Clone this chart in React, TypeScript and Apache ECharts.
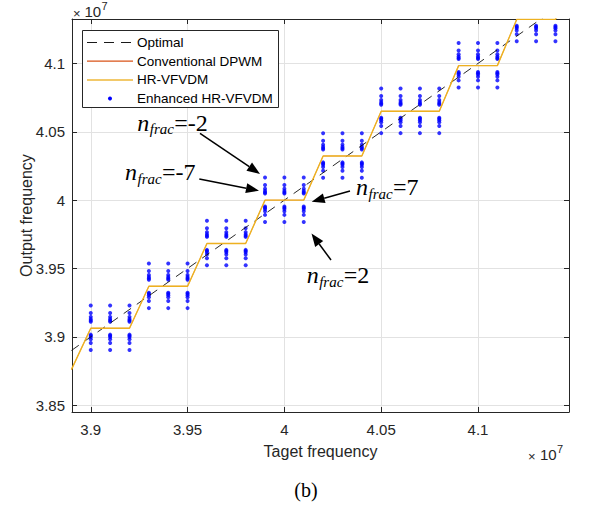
import React, { useEffect, useRef } from "react";
import * as echarts from "echarts";

// ---- data (units of 1e7 Hz) ----
const TARGET = [3.9, 3.91, 3.92, 3.93, 3.94, 3.95, 3.96, 3.97, 3.98, 3.99, 4.0, 4.01, 4.02, 4.03, 4.04, 4.05, 4.06, 4.07, 4.08, 4.09, 4.1, 4.11, 4.12, 4.13, 4.14];
const CLUSTER_LEVEL = [3.9063, 3.9063, 3.9063, 3.937, 3.937, 3.937, 3.9683, 3.9683, 3.9683, 4.0, 4.0, 4.0, 4.0323, 4.0323, 4.0323, 4.065, 4.065, 4.065, 4.065, 4.0984, 4.0984, 4.0984, 4.1322, 4.1322, 4.1322];
const ENH_OFFSETS = [0.0166, 0.0111, 0.0083, 0.0067, 0.0056, 0.0048, -0.0047, -0.0055, -0.0065, -0.0081, -0.0108, -0.016];
const STAIR_X = [3.89, 3.9, 3.92, 3.93, 3.95, 3.96, 3.98, 3.99, 4.01, 4.02, 4.04, 4.05, 4.08, 4.09, 4.11, 4.12, 4.14, 4.15];
const STAIR_Y = [3.876, 3.9063, 3.9063, 3.937, 3.937, 3.9683, 3.9683, 4.0, 4.0, 4.0323, 4.0323, 4.065, 4.065, 4.0984, 4.0984, 4.1322, 4.1322, 4.1667];
const OPT_X = [3.89, 4.15];
const OPT_Y = [3.89, 4.15];
const LEGEND_NAMES = ["Optimal", "Conventional DPWM", "HR-VFVDM", "Enhanced HR-VFVDM"];
const X_MIN = 3.8903, X_MAX = 4.147, Y_MIN = 3.845, Y_MAX = 4.1325;

const SANS = "'Liberation Sans', Arial, Helvetica, sans-serif";
const SERIF = "'Liberation Serif', 'Times New Roman', serif";
const AX = "#262626";

function arrow(x1: number, y1: number, x2: number, y2: number) {
  const dx = x2 - x1, dy = y2 - y1;
  const L = Math.hypot(dx, dy);
  const ux = dx / L, uy = dy / L;
  const hl = 13, hw = 5;
  const bx = x2 - ux * hl, by = y2 - uy * hl;
  return [
    { type: "line", z: 100, shape: { x1, y1, x2: bx, y2: by }, style: { stroke: "#000", lineWidth: 1.5 } },
    { type: "polygon", z: 100, shape: { points: [[x2, y2], [bx - uy * hw, by + ux * hw], [bx + uy * hw, by - ux * hw]] }, style: { fill: "#000" } },
  ];
}

function nfrac(x: number, B: number, val: string) {
  return [
    { type: "text", z: 100, x, y: B - 7.7, style: { text: "n", font: `italic 24px ${SERIF}`, fill: "#000", align: "left", verticalAlign: "middle" } },
    { type: "text", z: 100, x: x + 12.5, y: B - 1.3, style: { text: "frac", font: `italic 15px ${SERIF}`, fill: "#000", align: "left", verticalAlign: "middle" } },
    { type: "text", z: 100, x: x + 37, y: B - 7.7, style: { text: "=" + val, font: `24px ${SERIF}`, fill: "#000", align: "left", verticalAlign: "middle" } },
  ];
}

export default function App() {
  const ref = useRef<HTMLDivElement>(null);
  useEffect(() => {
    if (!ref.current) return;
    const chart = echarts.init(ref.current, undefined, { renderer: "svg" });
    const stairs = STAIR_X.map((x, i) => [x, STAIR_Y[i]]);
    const opt = OPT_X.map((x, i) => [x, OPT_Y[i]]);
    const enhanced: number[][] = [];
    TARGET.forEach((x, i) => {
      ENH_OFFSETS.forEach((o) => enhanced.push([x, +(CLUSTER_LEVEL[i] + o).toFixed(4)]));
    });
    const fmt = (v: number) => String(+v.toFixed(2));
    const baseAxis = {
      type: "value",
      splitNumber: 5,
      axisLine: { show: true, lineStyle: { color: AX, width: 1 } },
      axisTick: { show: true, inside: true, length: 5, lineStyle: { color: AX } },
    };
    const legendRowsY = [42.5, 61.2, 79.9, 98.6];
    const legendGraphics: any[] = [
      { type: "rect", z: 90, shape: { x: 82.5, y: 30.5, width: 196, height: 77 }, style: { fill: "#fff", stroke: AX, lineWidth: 1 } },
      { type: "line", z: 91, shape: { x1: 87, y1: legendRowsY[0], x2: 133, y2: legendRowsY[0] }, style: { stroke: "#000", lineWidth: 0.9, lineDash: [10, 7] } },
      { type: "line", z: 91, shape: { x1: 87, y1: legendRowsY[1], x2: 133, y2: legendRowsY[1] }, style: { stroke: "#D95319", lineWidth: 1.3 } },
      { type: "line", z: 91, shape: { x1: 87, y1: legendRowsY[2], x2: 133, y2: legendRowsY[2] }, style: { stroke: "#F2C96A", lineWidth: 2 } },
      { type: "circle", z: 91, shape: { cx: 110, cy: legendRowsY[3], r: 2 }, style: { fill: "#0000FF" } },
      ...LEGEND_NAMES.map((n, i) => ({
        type: "text", z: 91, x: 137, y: legendRowsY[i],
        style: { text: n, font: `13.5px ${SANS}`, fill: "#000", align: "left", verticalAlign: "middle" },
      })),
    ];
    chart.setOption({
      animation: false,
      backgroundColor: "#fff",
      grid: { left: 72, top: 19, right: 23, bottom: 96, containLabel: false, outerBoundsMode: "none" },
      xAxis: [
        {
          ...baseAxis, min: X_MIN, max: X_MAX, position: "bottom",
          axisLabel: { show: true, margin: 10, fontSize: 15, fontFamily: SANS, color: AX, formatter: fmt, showMinLabel: false, showMaxLabel: false },
          splitLine: { show: true, lineStyle: { color: "#e2e2e2", width: 1 } },
        },
        {
          ...baseAxis, min: X_MIN, max: X_MAX, position: "top",
          axisLabel: { show: false }, splitLine: { show: false },
        },
      ],
      yAxis: [
        {
          ...baseAxis, min: Y_MIN, max: Y_MAX, position: "left",
          axisLabel: { show: true, margin: 7, fontSize: 15, fontFamily: SANS, color: AX, formatter: fmt, showMinLabel: false, showMaxLabel: false },
          splitLine: { show: true, lineStyle: { color: "#e2e2e2", width: 1 } },
        },
        {
          ...baseAxis, min: Y_MIN, max: Y_MAX, position: "right",
          axisLabel: { show: false }, splitLine: { show: false },
        },
      ],
      series: [
        { name: LEGEND_NAMES[0], type: "line", data: opt, symbol: "none", silent: true, lineStyle: { color: "#111", width: 0.9, type: [9, 7] } },
        { name: LEGEND_NAMES[1], type: "line", data: stairs, symbol: "none", silent: true, lineStyle: { color: "#D95319", width: 0.5 } },
        { name: LEGEND_NAMES[2], type: "line", data: stairs, symbol: "none", silent: true, lineStyle: { color: "#EDB120", width: 1.4 } },
        { name: LEGEND_NAMES[3], type: "scatter", data: enhanced, symbol: "circle", symbolSize: 4, silent: true, itemStyle: { color: "#0000FF" } },
      ],
      graphic: [
        ...legendGraphics,
        // exponent labels
        { type: "text", x: 73, y: 13, style: { text: "×", font: `13px ${SANS}`, fill: AX, align: "left", verticalAlign: "middle" } },
        { type: "text", x: 84.5, y: 11, style: { text: "10", font: `15px ${SANS}`, fill: AX, align: "left", verticalAlign: "middle" } },
        { type: "text", x: 101.5, y: 5.5, style: { text: "7", font: `11px ${SANS}`, fill: AX, align: "left", verticalAlign: "middle" } },
        { type: "text", x: 528, y: 456, style: { text: "×", font: `13px ${SANS}`, fill: AX, align: "left", verticalAlign: "middle" } },
        { type: "text", x: 540, y: 454.5, style: { text: "10", font: `15px ${SANS}`, fill: AX, align: "left", verticalAlign: "middle" } },
        { type: "text", x: 557, y: 448.5, style: { text: "7", font: `11px ${SANS}`, fill: AX, align: "left", verticalAlign: "middle" } },
        // axis names
        { type: "text", x: 320.5, y: 451, style: { text: "Taget frequency", font: `16px ${SANS}`, fill: AX, align: "center", verticalAlign: "middle" } },
        { type: "text", x: 26, y: 215.5, rotation: Math.PI / 2, style: { text: "Output frequency", font: `16px ${SANS}`, fill: AX, align: "center", verticalAlign: "middle" } },
        { type: "text", x: 306, y: 490, style: { text: "(b)", font: `20px ${SERIF}`, fill: "#000", align: "center", verticalAlign: "middle" } },
        // annotations
        ...nfrac(137.3, 130.7, "-2"),
        ...nfrac(125, 180, "-7"),
        ...nfrac(356, 195, "7"),
        ...nfrac(306.7, 283, "2"),
        ...arrow(200, 133.3, 260, 174),
        ...arrow(199.3, 179, 259, 190.7),
        ...arrow(350, 191, 311.7, 201.7),
        ...arrow(331, 260, 311.5, 233.5),
      ],
    });
    return () => chart.dispose();
  }, []);
  return <div ref={ref} style={{ position: "fixed", left: 0, top: 0, width: 592, height: 508 }} />;
}
